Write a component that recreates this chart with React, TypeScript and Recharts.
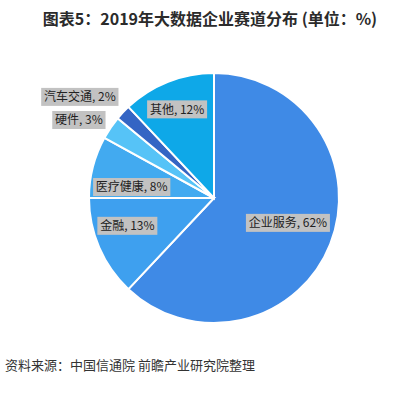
import { PieChart, Pie, Cell } from "recharts";

const categories = ["企业服务", "金融", "医疗健康", "硬件", "汽车交通", "其他"];
const shares = [62, 13, 8, 3, 2, 12];

const SLICE_COLORS = ["#3f8ae6", "#3ea0ef", "#42aaf0", "#56c3f7", "#3465c4", "#0ea8e8"];

// label placement: [angle shift from slice middle (deg), distance from centre (px)]
const LABEL_PLACE: [number, number][] = [
  [3, 78],
  [-5.6, 91],
  [6.8, 83],
  [4.2, 156],
  [6.2, 168],
  [1, 96],
];

const RAD = Math.PI / 180;

function textWidth(s: string, size: number): number {
  let w = 0;
  for (const ch of s) {
    if (/[\u4e00-\u9fff]/.test(ch)) w += size;
    else if (ch === " ") w += size * 0.28;
    else if (ch === ",") w += size * 0.3;
    else if (ch === "%") w += size * 0.8;
    else w += size * 0.56;
  }
  return w;
}

const chartData = categories.map((c, i) => ({ name: c, value: shares[i] }));

function renderLabel(props: any) {
  const { cx, cy, midAngle, index, name, value } = props;
  const [shift, dist] = LABEL_PLACE[index] ?? [0, 80];
  const a = (midAngle + shift) * RAD;
  const x = cx + dist * Math.cos(a);
  const y = cy - dist * Math.sin(a);
  const text = `${name}, ${value}%`;
  const w = textWidth(text, 12) + 6;
  const h = 18;
  return (
    <g>
      <rect x={x - w / 2} y={y - h / 2} width={w} height={h} fill="#c2c2c2" />
      <text
        x={x}
        y={y + 1}
        textAnchor="middle"
        dominantBaseline="middle"
        fontSize={12}
        fill="#222"
        fontFamily="'Noto Sans CJK SC', 'Noto Sans', sans-serif"
      >
        {text}
      </text>
    </g>
  );
}

export default function App() {
  return (
    <div
      style={{
        position: "absolute",
        left: 0,
        top: 0,
        width: 420,
        height: 397,
        background: "#fff",
        fontFamily: "'Noto Sans CJK SC', 'Noto Sans', sans-serif",
      }}
    >
      <div
        style={{
          position: "absolute",
          top: 6,
          left: 0,
          width: 420,
          textAlign: "center",
          fontSize: 16,
          fontWeight: 700,
          color: "#2b2b2b",
          lineHeight: "24px",
        }}
      >
        图表5：2019年大数据企业赛道分布 (单位：%)
      </div>
      <PieChart width={420} height={397} style={{ position: "absolute", left: 0, top: 0 }}>
        <Pie
          data={chartData}
          dataKey="value"
          nameKey="name"
          cx={209}
          cy={193}
          outerRadius={125}
          startAngle={90}
          endAngle={-270}
          stroke="#fff"
          strokeWidth={2}
          label={renderLabel}
          labelLine={false}
          isAnimationActive={false}
        >
          {chartData.map((d, i) => (
            <Cell key={d.name} fill={SLICE_COLORS[i]} />
          ))}
        </Pie>
      </PieChart>
      <div
        style={{
          position: "absolute",
          left: 5,
          top: 355,
          fontSize: 13,
          color: "#333",
          lineHeight: "20px",
        }}
      >
        资料来源：中国信通院 前瞻产业研究院整理
      </div>
    </div>
  );
}
